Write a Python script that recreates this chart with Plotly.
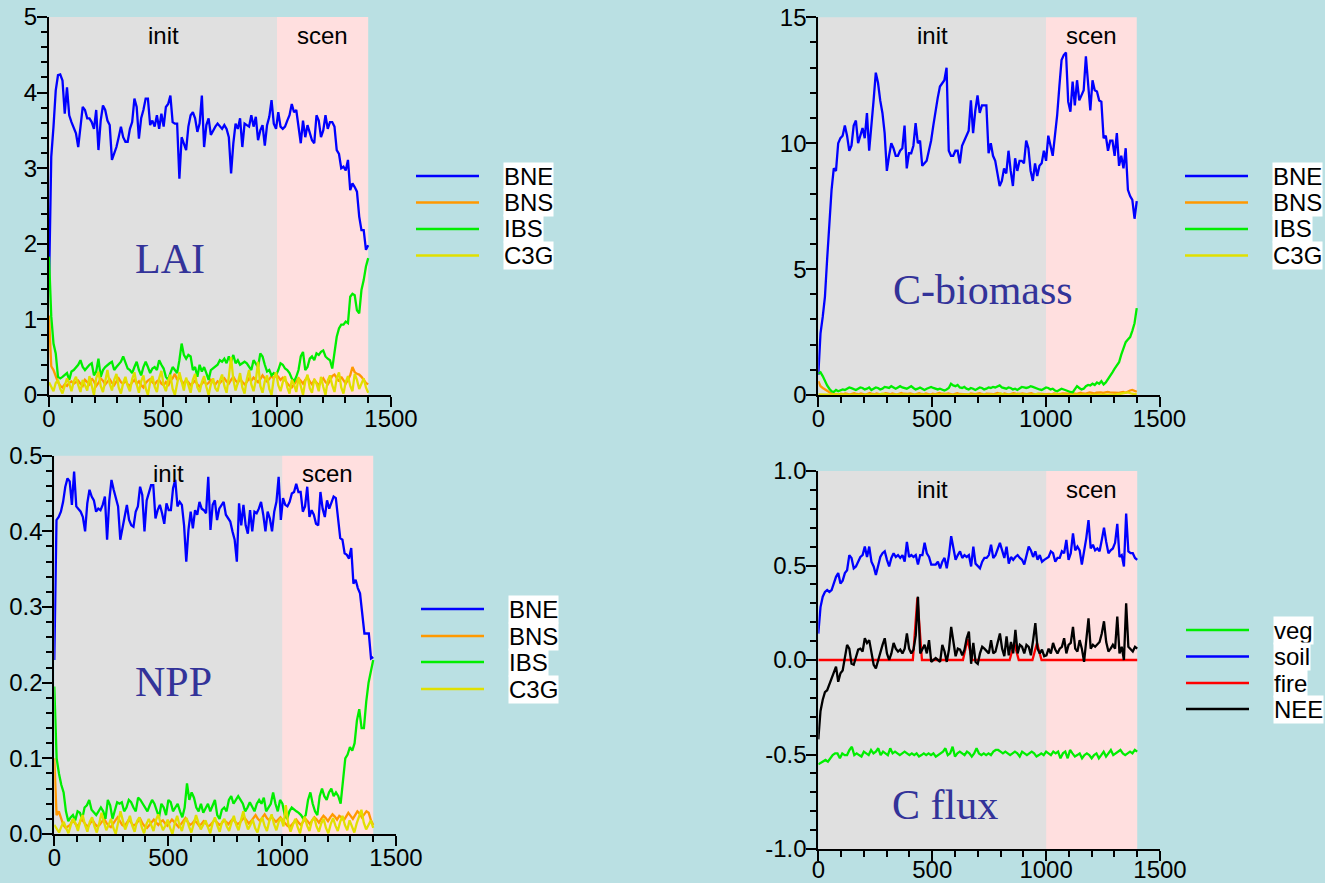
import numpy as np
import plotly.graph_objects as go

W, H = 1325, 883

# ---------------- data ----------------
lai_BNE = [1.43, 3.15, 3.55, 4.03, 4.23, 4.24, 4.16, 3.72, 4.07, 3.70,
           3.61, 3.52, 3.46, 3.28, 3.55, 3.81, 3.77, 3.66, 3.66, 3.61,
           3.52, 3.77, 3.24, 3.63, 3.83, 3.77, 3.63, 3.57, 3.11, 3.19,
           3.28, 3.41, 3.55, 3.41, 3.35, 3.35, 3.52, 3.61, 3.92, 3.81,
           3.39, 3.66, 3.77, 3.92, 3.92, 3.57, 3.63, 3.55, 3.70, 3.52,
           3.72, 3.55, 3.81, 3.85, 3.96, 3.61, 3.59, 3.59, 2.86, 3.41,
           3.33, 3.24, 3.55, 3.70, 3.74, 3.66, 3.48, 3.59, 3.96, 3.28,
           3.57, 3.66, 3.44, 3.50, 3.55, 3.59, 3.55, 3.52, 3.57, 3.52,
           3.41, 2.93, 3.33, 3.59, 3.52, 3.66, 3.28, 3.59, 3.57, 3.55,
           3.70, 3.55, 3.68, 3.37, 3.50, 3.57, 3.30, 3.57, 3.68, 3.90,
           3.59, 3.52, 3.74, 3.55, 3.52, 3.55, 3.63, 3.70, 3.85, 3.74,
           3.77, 3.55, 3.33, 3.63, 3.41, 3.57, 3.46, 3.37, 3.33, 3.70,
           3.63, 3.41, 3.50, 3.70, 3.52, 3.61, 3.61, 3.55, 3.24, 3.19,
           3.00, 3.02, 2.97, 3.11, 2.71, 2.80, 2.75, 2.69, 2.36, 2.18,
           2.18, 1.92, 1.98]
lai_BNS = [1.05, 0.38, 0.33, 0.25, 0.17, 0.12, 0.10, 0.14, 0.12, 0.16, 0.18, 0.15, 0.17, 0.19, 0.15,
           0.12, 0.20, 0.17, 0.14, 0.22, 0.18, 0.12, 0.16, 0.22, 0.19, 0.14, 0.17, 0.21, 0.16, 0.13,
           0.18, 0.22, 0.17, 0.15, 0.19, 0.14, 0.12, 0.17, 0.20, 0.15, 0.18, 0.13, 0.10, 0.16, 0.19,
           0.21, 0.17, 0.14, 0.18, 0.20, 0.15, 0.13, 0.17, 0.12, 0.19, 0.22, 0.28, 0.20, 0.24, 0.18,
           0.15, 0.20, 0.17, 0.13, 0.16, 0.19, 0.14, 0.11, 0.15, 0.18, 0.14, 0.16, 0.20, 0.17, 0.14,
           0.18, 0.16, 0.19, 0.22, 0.18, 0.15, 0.20, 0.24, 0.19, 0.16, 0.21, 0.18, 0.14, 0.17, 0.22,
           0.19, 0.23, 0.20, 0.17, 0.21, 0.26, 0.22, 0.18, 0.21, 0.25, 0.22, 0.27, 0.24, 0.20, 0.23,
           0.19, 0.16, 0.12, 0.10, 0.14, 0.18, 0.22, 0.19, 0.15, 0.20, 0.24, 0.18, 0.14, 0.20, 0.17,
           0.13, 0.18, 0.22, 0.17, 0.14, 0.19, 0.25, 0.27, 0.22, 0.18, 0.24, 0.19, 0.15, 0.20, 0.26,
           0.37, 0.30, 0.28, 0.27, 0.24, 0.20, 0.16, 0.14]
lai_IBS = [1.83, 1.04, 0.68, 0.55, 0.24, 0.22, 0.24, 0.26, 0.29, 0.20, 0.31, 0.33, 0.37, 0.40, 0.46,
           0.37, 0.33, 0.37, 0.40, 0.42, 0.26, 0.31, 0.48, 0.24, 0.33, 0.37, 0.40, 0.42, 0.44, 0.33,
           0.37, 0.40, 0.44, 0.51, 0.42, 0.35, 0.33, 0.29, 0.37, 0.44, 0.33, 0.26, 0.37, 0.44, 0.37,
           0.29, 0.35, 0.37, 0.33, 0.46, 0.40, 0.35, 0.24, 0.20, 0.29, 0.37, 0.33, 0.29, 0.46, 0.68,
           0.53, 0.48, 0.53, 0.51, 0.33, 0.37, 0.24, 0.40, 0.31, 0.37, 0.29, 0.20, 0.33, 0.35, 0.37,
           0.40, 0.46, 0.44, 0.48, 0.42, 0.51, 0.44, 0.53, 0.42, 0.46, 0.40, 0.42, 0.44, 0.42, 0.37,
           0.33, 0.46, 0.42, 0.37, 0.55, 0.51, 0.40, 0.31, 0.33, 0.26, 0.29, 0.26, 0.33, 0.42, 0.40,
           0.35, 0.33, 0.29, 0.22, 0.18, 0.24, 0.33, 0.51, 0.57, 0.33, 0.37, 0.48, 0.51, 0.46, 0.55,
           0.53, 0.57, 0.59, 0.51, 0.48, 0.46, 0.35, 0.55, 0.77, 0.88, 0.93, 0.93, 0.97, 0.95, 1.30,
           1.34, 1.32, 1.12, 1.08, 1.39, 1.52, 1.70, 1.81]
lai_C3G = [0.17, 0.10, 0.05, 0.16, 0.20, 0.08, 0.02, 0.12, 0.22, 0.15, 0.05, 0.18, 0.24, 0.13, 0.04,
           0.20, 0.14, 0.06, 0.25, 0.10, 0.00, 0.22, 0.31, 0.12, 0.04, 0.18, 0.33, 0.15, 0.06, 0.20,
           0.28, 0.10, 0.02, 0.16, 0.24, 0.12, 0.05, 0.21, 0.30, 0.14, 0.03, 0.18, 0.26, 0.09, 0.00,
           0.17, 0.25, 0.11, 0.04, 0.22, 0.32, 0.13, 0.05, 0.19, 0.27, 0.08, 0.00, 0.15, 0.30, 0.18,
           0.06, 0.23, 0.12, 0.03, 0.20, 0.28, 0.10, 0.04, 0.17, 0.25, 0.11, 0.00, 0.14, 0.22, 0.09,
           0.05, 0.19, 0.27, 0.12, 0.03, 0.24, 0.50, 0.20, 0.06, 0.16, 0.29, 0.10, 0.02, 0.21, 0.33,
           0.14, 0.05, 0.19, 0.44, 0.12, 0.03, 0.18, 0.26, 0.08, 0.00, 0.22, 0.30, 0.13, 0.05, 0.17,
           0.25, 0.10, 0.02, 0.20, 0.14, 0.04, 0.23, 0.12, 0.00, 0.18, 0.27, 0.09, 0.03, 0.21, 0.15,
           0.05, 0.24, 0.11, 0.00, 0.19, 0.26, 0.13, 0.04, 0.22, 0.30, 0.10, 0.02, 0.17, 0.25, 0.12,
           0.05, 0.28, 0.20, 0.08, 0.14, 0.22, 0.10, 0.03]

cb_BNE = [0.8, 2.45, 3.1, 3.9, 5.4, 6.95, 8.15, 9.0, 8.9, 10.0,
          10.2, 10.3, 10.7, 10.3, 9.7, 9.9, 10.7, 10.9, 10.0, 10.3,
          10.6, 10.2, 11.2, 9.7, 10.9, 11.7, 12.8, 12.4, 11.7, 11.2,
          10.4, 8.9, 9.5, 10.0, 9.8, 9.5, 9.5, 9.7, 9.8, 10.7,
          9.0, 9.6, 9.6, 9.9, 10.8, 10.0, 10.1, 9.1, 9.2, 9.3,
          9.7, 10.1, 10.7, 11.3, 11.8, 12.25, 12.4, 12.5, 13.0, 9.7,
          9.5, 9.5, 9.7, 9.7, 9.2, 9.9, 10.1, 10.3, 10.5, 11.7,
          10.4, 11.3, 11.9, 11.2, 11.5, 11.5, 11.5, 9.6, 10.0, 9.5,
          9.3, 8.8, 8.3, 8.5, 9.0, 8.8, 9.7, 8.9, 8.3, 9.4,
          8.9, 9.3, 9.3, 9.2, 10.1, 9.8, 8.9, 8.5, 9.2, 8.7,
          9.1, 9.2, 9.7, 9.3, 10.3, 9.9, 9.5, 10.3, 11.1, 12.25,
          13.3, 13.5, 13.6, 11.65, 11.25, 12.45, 11.5, 12.5, 11.7, 11.9,
          12.1, 13.45, 12.5, 11.3, 12.5, 12.1, 12.05, 11.7, 11.65, 10.2,
          10.3, 9.7, 10.1, 10.1, 9.5, 10.4, 9.1, 9.5, 9.0, 9.8,
          8.15, 7.9, 7.75, 7.0, 7.7]
cb_BNS = [0.55, 0.35, 0.28, 0.22, 0.15, 0.08, 0.05, 0.03, 0.04, 0.02, 0.05, 0.03, 0.06, 0.04, 0.02,
          0.05, 0.07, 0.04, 0.03, 0.06, 0.04, 0.02, 0.05, 0.08, 0.04, 0.03, 0.06, 0.05, 0.02, 0.04,
          0.07, 0.05, 0.03, 0.06, 0.04, 0.02, 0.05, 0.08, 0.05, 0.03, 0.04, 0.06, 0.03, 0.02, 0.05,
          0.07, 0.04, 0.03, 0.06, 0.04, 0.02, 0.05, 0.03, 0.06, 0.08, 0.05, 0.03, 0.04, 0.06, 0.04,
          0.02, 0.05, 0.07, 0.04, 0.03, 0.05, 0.04, 0.02, 0.06, 0.04, 0.03, 0.05, 0.07, 0.04, 0.02,
          0.05, 0.06, 0.04, 0.03, 0.05, 0.08, 0.05, 0.03, 0.06, 0.04, 0.02, 0.05, 0.07, 0.05, 0.03,
          0.04, 0.06, 0.04, 0.03, 0.05, 0.07, 0.04, 0.02, 0.05, 0.06, 0.04, 0.03, 0.05, 0.04, 0.02,
          0.06, 0.05, 0.03, 0.04, 0.06, 0.05, 0.03, 0.05, 0.08, 0.06, 0.04, 0.07, 0.09, 0.06, 0.05,
          0.08, 0.10, 0.08, 0.06, 0.09, 0.11, 0.10, 0.08, 0.10, 0.12, 0.10, 0.09, 0.11, 0.10, 0.08,
          0.10, 0.12, 0.09, 0.14, 0.18, 0.20, 0.15, 0.13]
cb_IBS = [0.85, 0.90, 0.75, 0.55, 0.38, 0.25, 0.15, 0.12, 0.20, 0.15, 0.18, 0.22, 0.20, 0.25, 0.30,
          0.27, 0.22, 0.20, 0.25, 0.30, 0.28, 0.22, 0.25, 0.30, 0.20, 0.25, 0.30, 0.28, 0.22, 0.25,
          0.32, 0.30, 0.28, 0.35, 0.30, 0.25, 0.30, 0.35, 0.30, 0.28, 0.25, 0.30, 0.35, 0.28, 0.22,
          0.25, 0.30, 0.25, 0.20, 0.25, 0.30, 0.32, 0.28, 0.25, 0.22, 0.25, 0.20, 0.18, 0.22, 0.28,
          0.45, 0.38, 0.35, 0.40, 0.30, 0.28, 0.32, 0.25, 0.22, 0.28, 0.25, 0.20, 0.25, 0.30, 0.28,
          0.22, 0.25, 0.30, 0.28, 0.32, 0.30, 0.35, 0.38, 0.30, 0.28, 0.25, 0.30, 0.28, 0.22, 0.25,
          0.20, 0.28, 0.32, 0.30, 0.28, 0.30, 0.35, 0.32, 0.28, 0.25, 0.22, 0.20, 0.25, 0.30, 0.28,
          0.22, 0.25, 0.18, 0.15, 0.20, 0.25, 0.22, 0.18, 0.15, 0.12, 0.10, 0.25, 0.35, 0.28, 0.22,
          0.25, 0.35, 0.40, 0.38, 0.45, 0.40, 0.50, 0.45, 0.55, 0.42, 0.50, 0.62, 0.75, 0.90, 1.05,
          1.20, 1.30, 1.60, 1.85, 2.10, 2.20, 2.30, 2.55, 2.85, 3.45]
cb_C3G = [0.02, 0.01, 0.0, 0.01, 0.02, 0.0, 0.01, 0.0, 0.01, 0.02, 0.0, 0.01, 0.0, 0.01, 0.05,
          0.01, 0.0, 0.01, 0.02, 0.0, 0.01, 0.0, 0.02, 0.01, 0.0, 0.01, 0.0, 0.02, 0.01, 0.0,
          0.01, 0.02, 0.0, 0.01, 0.0, 0.01, 0.02, 0.0, 0.01, 0.0, 0.06, 0.01, 0.0, 0.01, 0.02,
          0.0, 0.01, 0.0, 0.04, 0.01, 0.0, 0.01, 0.02, 0.0, 0.01, 0.0, 0.01, 0.02, 0.0, 0.01,
          0.0, 0.01, 0.02, 0.0, 0.01, 0.0, 0.03, 0.08, 0.10, 0.05, 0.02]

npp_BNE = [0.23, 0.415, 0.419, 0.426, 0.439, 0.459, 0.47, 0.466, 0.435, 0.479,
           0.433, 0.430, 0.426, 0.419, 0.40, 0.437, 0.455, 0.446, 0.441, 0.426,
           0.430, 0.428, 0.435, 0.446, 0.389, 0.441, 0.468, 0.455, 0.444, 0.433,
           0.389, 0.406, 0.422, 0.435, 0.415, 0.408, 0.406, 0.426, 0.433, 0.459,
           0.448, 0.40, 0.441, 0.452, 0.461, 0.461, 0.417, 0.428, 0.435, 0.424,
           0.41, 0.437, 0.428, 0.428, 0.457, 0.468, 0.433, 0.439, 0.435, 0.408,
           0.36, 0.402, 0.426, 0.404, 0.428, 0.422, 0.439, 0.430, 0.428, 0.424,
           0.472, 0.402, 0.435, 0.441, 0.415, 0.430, 0.435, 0.439, 0.422, 0.417,
           0.413, 0.40, 0.389, 0.36, 0.437, 0.408, 0.435, 0.408, 0.397, 0.428,
           0.40, 0.426, 0.424, 0.430, 0.439, 0.422, 0.40, 0.426, 0.417, 0.40,
           0.426, 0.439, 0.472, 0.415, 0.444, 0.435, 0.433, 0.439, 0.45, 0.452,
           0.463, 0.452, 0.452, 0.426, 0.433, 0.459, 0.419, 0.428, 0.422, 0.41,
           0.408, 0.452, 0.430, 0.419, 0.441, 0.430, 0.439, 0.446, 0.444, 0.415,
           0.391, 0.389, 0.371, 0.369, 0.364, 0.378, 0.331, 0.336, 0.325, 0.318,
           0.292, 0.265, 0.265, 0.265, 0.232, 0.234]
npp_BNS = [0.10, 0.025, 0.03, 0.022, 0.012, 0.008, 0.010, 0.012, 0.018, 0.015, 0.010, 0.013, 0.020,
           0.016, 0.012, 0.010, 0.015, 0.018, 0.013, 0.010, 0.012, 0.016, 0.020, 0.015, 0.011, 0.009,
           0.014, 0.018, 0.022, 0.016, 0.012, 0.010, 0.014, 0.019, 0.015, 0.011, 0.013, 0.017, 0.020,
           0.014, 0.010, 0.008, 0.012, 0.016, 0.019, 0.015, 0.012, 0.016, 0.018, 0.014, 0.011, 0.015,
           0.019, 0.016, 0.012, 0.009, 0.013, 0.017, 0.021, 0.016, 0.012, 0.014, 0.018, 0.015, 0.011,
           0.013, 0.017, 0.014, 0.010, 0.012, 0.016, 0.019, 0.015, 0.012, 0.014, 0.018, 0.016, 0.013,
           0.017, 0.020, 0.016, 0.013, 0.015, 0.019, 0.022, 0.018, 0.014, 0.017, 0.021, 0.025, 0.020,
           0.017, 0.022, 0.026, 0.021, 0.018, 0.023, 0.020, 0.016, 0.019, 0.022, 0.018, 0.014, 0.011,
           0.009, 0.012, 0.016, 0.019, 0.015, 0.012, 0.016, 0.020, 0.017, 0.013, 0.018, 0.022, 0.019,
           0.015, 0.020, 0.024, 0.021, 0.017, 0.022, 0.026, 0.023, 0.019, 0.024, 0.022, 0.018, 0.023,
           0.028, 0.024, 0.020, 0.025, 0.030, 0.027, 0.022, 0.026, 0.030, 0.028, 0.018, 0.012]
npp_IBS = [0.195, 0.100, 0.080, 0.065, 0.055, 0.030, 0.017, 0.022, 0.025, 0.018, 0.030, 0.028, 0.020,
           0.035, 0.038, 0.045, 0.032, 0.028, 0.025, 0.030, 0.035, 0.030, 0.020, 0.045, 0.038, 0.020,
           0.032, 0.042, 0.040, 0.042, 0.030, 0.035, 0.045, 0.042, 0.035, 0.030, 0.048, 0.045, 0.040,
           0.035, 0.030, 0.038, 0.045, 0.040, 0.030, 0.022, 0.040, 0.035, 0.025, 0.045, 0.042, 0.030,
           0.035, 0.040, 0.030, 0.022, 0.035, 0.067, 0.045, 0.055, 0.048, 0.035, 0.030, 0.040, 0.028,
           0.035, 0.040, 0.030, 0.038, 0.045, 0.025, 0.020, 0.032, 0.035, 0.030, 0.045, 0.050, 0.040,
           0.045, 0.050, 0.045, 0.040, 0.030, 0.035, 0.042, 0.035, 0.030, 0.040, 0.045, 0.040, 0.048,
           0.030, 0.035, 0.040, 0.055, 0.040, 0.030, 0.045, 0.040, 0.025, 0.020, 0.030, 0.035, 0.032,
           0.030, 0.028, 0.025, 0.020, 0.025, 0.045, 0.055, 0.040, 0.030, 0.025, 0.050, 0.060, 0.050,
           0.045, 0.055, 0.060, 0.050, 0.055, 0.050, 0.040, 0.070, 0.100, 0.105, 0.115, 0.110, 0.120,
           0.150, 0.165, 0.140, 0.140, 0.175, 0.200, 0.215, 0.230]
npp_C3G = [0.012, 0.006, 0.002, 0.010, 0.016, 0.008, 0.001, 0.012, 0.020, 0.014, 0.004, 0.018, 0.025,
           0.012, 0.003, 0.016, 0.022, 0.010, 0.002, 0.014, 0.028, 0.016, 0.005, 0.012, 0.020, 0.008,
           0.000, 0.015, 0.030, 0.018, 0.006, 0.014, 0.024, 0.011, 0.003, 0.017, 0.022, 0.009, 0.001,
           0.013, 0.020, 0.012, 0.004, 0.018, 0.026, 0.014, 0.005, 0.011, 0.019, 0.008, 0.000, 0.014,
           0.024, 0.012, 0.004, 0.016, 0.021, 0.010, 0.002, 0.013, 0.025, 0.015, 0.006, 0.012, 0.018,
           0.009, 0.001, 0.014, 0.022, 0.011, 0.003, 0.016, 0.020, 0.010, 0.004, 0.015, 0.024, 0.012,
           0.005, 0.018, 0.030, 0.016, 0.006, 0.012, 0.019, 0.008, 0.002, 0.014, 0.022, 0.011, 0.004,
           0.017, 0.026, 0.013, 0.005, 0.016, 0.021, 0.010, 0.038, 0.014, 0.003, 0.012, 0.020, 0.009,
           0.001, 0.015, 0.023, 0.011, 0.004, 0.017, 0.022, 0.010, 0.003, 0.014, 0.020, 0.008, 0.001,
           0.013, 0.021, 0.011, 0.004, 0.016, 0.024, 0.012, 0.005, 0.018, 0.010, 0.002, 0.014, 0.022,
           0.032, 0.015, 0.006, 0.012, 0.018, 0.008]

cf_veg = [-0.552, -0.545, -0.538, -0.529, -0.538, -0.520, -0.503, -0.494, -0.494, -0.520,
          -0.494, -0.503, -0.503, -0.476, -0.459, -0.503, -0.494, -0.503, -0.511, -0.485,
          -0.494, -0.503, -0.476, -0.494, -0.485, -0.467, -0.503, -0.485, -0.494, -0.503,
          -0.467, -0.494, -0.485, -0.494, -0.503, -0.494, -0.485, -0.494, -0.503, -0.494,
          -0.503, -0.494, -0.511, -0.503, -0.494, -0.503, -0.494, -0.503, -0.494, -0.511,
          -0.503, -0.494, -0.485, -0.467, -0.503, -0.494, -0.459, -0.511, -0.494, -0.485,
          -0.494, -0.503, -0.485, -0.494, -0.511, -0.494, -0.467, -0.494, -0.503, -0.494,
          -0.503, -0.494, -0.503, -0.485, -0.476, -0.476, -0.485, -0.494, -0.485, -0.494,
          -0.503, -0.494, -0.485, -0.494, -0.511, -0.485, -0.494, -0.503, -0.494, -0.485,
          -0.494, -0.511, -0.503, -0.494, -0.503, -0.485, -0.494, -0.503, -0.485, -0.494,
          -0.485, -0.520, -0.494, -0.485, -0.520, -0.476, -0.494, -0.511, -0.503, -0.494,
          -0.520, -0.503, -0.494, -0.503, -0.520, -0.503, -0.494, -0.520, -0.503, -0.485,
          -0.511, -0.494, -0.476, -0.503, -0.494, -0.485, -0.476, -0.494, -0.503, -0.494,
          -0.485, -0.494, -0.476, -0.485]
cf_soil = [0.14, 0.28, 0.335, 0.36, 0.37, 0.36, 0.37, 0.405, 0.44, 0.46,
           0.405, 0.42, 0.46, 0.475, 0.555, 0.54, 0.485, 0.495, 0.52, 0.545,
           0.555, 0.60, 0.545, 0.60, 0.52, 0.495, 0.45, 0.505, 0.545, 0.565,
           0.575, 0.53, 0.495, 0.54, 0.565, 0.545, 0.555, 0.54, 0.555, 0.52,
           0.625, 0.545, 0.555, 0.545, 0.555, 0.505, 0.555, 0.555, 0.62, 0.565,
           0.545, 0.505, 0.505, 0.505, 0.52, 0.485, 0.52, 0.54, 0.485, 0.555,
           0.655, 0.60, 0.53, 0.555, 0.575, 0.54, 0.555, 0.545, 0.555, 0.495,
           0.60, 0.51, 0.495, 0.485, 0.52, 0.54, 0.54, 0.555, 0.61, 0.54,
           0.555, 0.59, 0.62, 0.58, 0.54, 0.60, 0.51, 0.545, 0.53, 0.545,
           0.555, 0.54, 0.53, 0.505, 0.555, 0.60, 0.58, 0.545, 0.575, 0.53,
           0.555, 0.52, 0.53, 0.54, 0.545, 0.575, 0.565, 0.52, 0.54, 0.54,
           0.575, 0.565, 0.635, 0.53, 0.565, 0.67, 0.58, 0.60, 0.58, 0.505,
           0.565, 0.645, 0.74, 0.59, 0.61, 0.58, 0.59, 0.575, 0.635, 0.70,
           0.625, 0.565, 0.58, 0.59, 0.62, 0.72, 0.545, 0.555, 0.495, 0.775,
           0.575, 0.565, 0.565, 0.54, 0.53]
fire_years = [0, 415, 435, 455, 635, 655, 675, 840, 860, 880, 940, 960, 980, 1400]
cf_fire = [0, 0, 0.33, 0, 0, 0.11, 0, 0, 0.09, 0, 0, 0.09, 0, 0]
cf_NEE = [-0.42, -0.27, -0.21, -0.17, -0.16, -0.13, -0.105, -0.07, -0.035, -0.115,
          -0.07, -0.055, 0.01, 0.08, 0.06, -0.02, -0.025, 0.02, 0.055, 0.06,
          0.045, 0.115, 0.09, 0.105, 0.045, -0.025, -0.045, 0.0, 0.035, 0.08,
          0.115, 0.035, 0.0, 0.035, 0.09, 0.06, 0.045, 0.055, 0.035, 0.06,
          0.14, 0.06, 0.035, 0.055, 0.13, 0.335, 0.035, 0.055, 0.08, 0.035,
          0.105, -0.01, 0.0, 0.01, 0.0, -0.01, 0.08, 0.045, -0.01, 0.055,
          0.175, 0.09, 0.02, 0.06, 0.055, 0.025, 0.055, 0.115, 0.15, -0.02,
          0.09, -0.01, -0.02, 0.035, 0.07, 0.06, 0.045, 0.035, 0.105, 0.035,
          0.045, 0.09, 0.14, 0.06, 0.02, 0.125, 0.025, 0.095, 0.035, 0.16,
          0.035, 0.08, 0.07, 0.035, 0.08, 0.07, 0.025, 0.105, 0.195, 0.06,
          0.035, 0.055, 0.02, 0.025, 0.06, 0.035, 0.09, 0.055, 0.035, 0.06,
          0.07, 0.115, 0.035, 0.08, 0.09, 0.175, 0.06, 0.045, 0.105, 0.06,
          -0.01, 0.105, 0.22, 0.06, 0.08, 0.07, 0.08, 0.095, 0.14, 0.205,
          0.095, 0.045, 0.06, 0.08, 0.06, 0.23, 0.035, 0.07, 0.0, 0.30,
          0.07, 0.055, 0.045, 0.07, 0.06]

pft_names = ["BNE", "BNS", "IBS", "C3G"]
pft_colors = ["#0000FF", "#FF9900", "#00EE00", "#E0E000"]
flux_names = ["veg", "soil", "fire", "NEE"]
flux_colors = ["#00EE00", "#0000FF", "#FF0000", "#000000"]

periods = ["init", "scen"]
period_start = [0, 1000]
period_end = [1000, 1400]
period_colors = ["#E0E0E0", "#FFDFDF"]
period_label_x = [500, 1200]

x_ticks = [0, 500, 1000, 1500]

def yrs(v):
    return np.linspace(0, 1400, len(v))

# ---------------- figure ----------------
fig = go.Figure()

panels = [
    dict(ax="", names=pft_names, colors=pft_colors,
         series=[(yrs(lai_BNE), lai_BNE), (yrs(lai_BNS), lai_BNS), (yrs(lai_IBS), lai_IBS), (yrs(lai_C3G), lai_C3G)],
         label="LAI", label_xy=(530, 1.8)),
    dict(ax="2", names=pft_names, colors=pft_colors,
         series=[(yrs(cb_BNE), cb_BNE), (yrs(cb_BNS), cb_BNS), (yrs(cb_IBS), cb_IBS), (yrs(cb_C3G), cb_C3G)],
         label="C-biomass", label_xy=(722, 4.17)),
    dict(ax="3", names=pft_names, colors=pft_colors,
         series=[(yrs(npp_BNE), npp_BNE), (yrs(npp_BNS), npp_BNS), (yrs(npp_IBS), npp_IBS), (yrs(npp_C3G), npp_C3G)],
         label="NPP", label_xy=(524, 0.201)),
    dict(ax="4", names=flux_names, colors=flux_colors,
         series=[(yrs(cf_veg), cf_veg), (yrs(cf_soil), cf_soil), (fire_years, cf_fire), (yrs(cf_NEE), cf_NEE)],
         label="C flux", label_xy=(557, -0.767)),
]

for p in panels:
    for (xs, ys), nm, col in zip(p["series"], p["names"], p["colors"]):
        fig.add_trace(go.Scatter(x=xs, y=ys, mode="lines", name=nm,
                                 line=dict(color=col, width=2.3),
                                 xaxis="x" + p["ax"], yaxis="y" + p["ax"],
                                 showlegend=False))

# ---- layout geometry (pixels) ----
geom = {
    "": (49, 391, 395, 17),
    "2": (818.3, 1159.5, 395, 17.3),
    "3": (54.3, 396, 834, 455.7),
    "4": (818.3, 1160, 849, 471),
}
x_standoff = {"": -9, "2": -9, "3": -9, "4": -12}
yaxis_specs = {
    "": dict(range=[0, 5], dtick=1, tick0=0, minor_dtick=0.2, fmt=None),
    "2": dict(range=[0, 15], dtick=5, tick0=0, minor_dtick=1, fmt=None),
    "3": dict(range=[0, 0.5], dtick=0.1, tick0=0, minor_dtick=0.02, fmt=".1f"),
    "4": dict(range=[-1, 1], dtick=0.5, tick0=-1, minor_dtick=0.1, fmt=None),
}
cflux_tickvals = [-1, -0.5, 0, 0.5, 1]
cflux_ticktext = ["-1.0", "-0.5", "0.0", "0.5", "1.0"]

font_sans = "Liberation Sans, Arial, sans-serif"
font_serif = "Liberation Serif, Times New Roman, serif"
tickfont = dict(family=font_sans, size=24, color="black")

common = dict(showline=True, linecolor="black", linewidth=2, ticks="outside",
              ticklen=10, tickwidth=2, tickcolor="black", showgrid=False,
              zeroline=False, tickfont=tickfont, fixedrange=True, automargin=False)

layout = dict(width=W, height=H, margin=dict(l=0, r=0, t=0, b=0, autoexpand=False),
              paper_bgcolor="#BAE0E3", plot_bgcolor="#BAE0E3",
              showlegend=False)

for key, (x0, x1, yb, yt) in geom.items():
    xd = [x0 / W, x1 / W]
    yd = [(H - yb) / H, (H - yt) / H]
    xa = dict(common, domain=xd, range=[0, 1500], tickvals=x_ticks,
              anchor="y" + key, ticklabelstandoff=x_standoff[key],
              minor=dict(ticks="outside", ticklen=6, tickwidth=2, tickcolor="black",
                         dtick=100, tick0=0, showgrid=False))
    s = yaxis_specs[key]
    ya = dict(common, domain=yd, range=s["range"], dtick=s["dtick"], tick0=s["tick0"],
              anchor="x" + key, ticklabelstandoff=-5,
              minor=dict(ticks="outside", ticklen=6, tickwidth=2, tickcolor="black",
                         dtick=s["minor_dtick"], tick0=s["tick0"], showgrid=False))
    if s["fmt"]:
        ya["tickformat"] = s["fmt"]
    if key == "4":
        ya["tickvals"] = cflux_tickvals
        ya["ticktext"] = cflux_ticktext
        ya["tickmode"] = "array"
    layout["xaxis" + key] = xa
    layout["yaxis" + key] = ya

fig.update_layout(**layout)

shapes = []
annotations = []
for p in panels:
    k = p["ax"]
    for name, xs0, xs1, col, lx in zip(periods, period_start, period_end, period_colors, period_label_x):
        shapes.append(dict(type="rect", xref="x" + k, yref=("y" + k) + " domain",
                           x0=xs0, x1=xs1, y0=0, y1=1, fillcolor=col,
                           line=dict(width=0), layer="below"))
        annotations.append(dict(text=name, x=lx, xref="x" + k, y=1, yref=("y" + k) + " domain",
                                yanchor="middle", yshift=-18, showarrow=False,
                                font=dict(family=font_sans, size=24, color="black")))
    annotations.append(dict(text=p["label"], x=p["label_xy"][0], y=p["label_xy"][1],
                            xref="x" + k, yref="y" + k, showarrow=False,
                            font=dict(family=font_serif, size=42, color="#333399")))

# custom legends (pixel layout): line x0, line x1, text x, row ys
legend_geom = [
    (416, 479, 503, [176, 202.5, 229, 255.5]),
    (1185, 1248, 1272, [176, 202.5, 229, 255.5]),
    (421, 484, 508, [609, 636, 662, 689]),
    (1186, 1249, 1273, [630, 656.5, 683, 709]),
]
for p, (lx0, lx1, tx, rows) in zip(panels, legend_geom):
    for nm, col, ry in zip(p["names"], p["colors"], rows):
        yp = 1 - ry / H
        shapes.append(dict(type="line", xref="paper", yref="paper",
                           x0=lx0 / W, x1=lx1 / W, y0=yp, y1=yp,
                           line=dict(color=col, width=2.5)))
        annotations.append(dict(text=nm, x=tx / W, y=yp, xref="paper", yref="paper",
                                xanchor="left", yanchor="middle", showarrow=False,
                                bgcolor="white", borderpad=0,
                                font=dict(family=font_sans, size=24, color="black")))

fig.update_layout(shapes=shapes, annotations=annotations)
fig.write_html("out.html")
